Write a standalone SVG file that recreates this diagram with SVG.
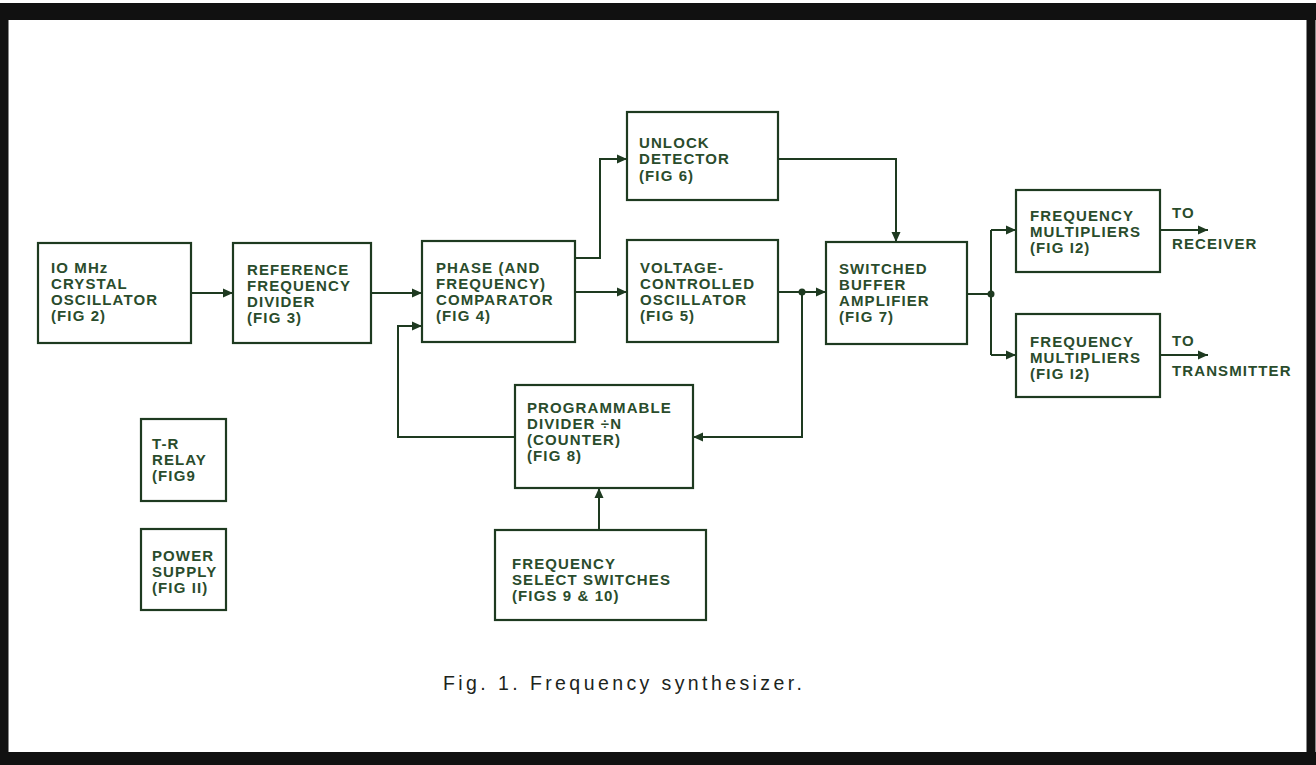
<svg xmlns="http://www.w3.org/2000/svg" width="1316" height="765" viewBox="0 0 1316 765">
<style>
.box{fill:#fff;stroke:#1e3a20;stroke-width:2.2}
.ln{fill:none;stroke:#1e3a20;stroke-width:2}
.t{font-family:"Liberation Sans",Arial,sans-serif;font-weight:bold;font-size:15px;letter-spacing:1.1px;fill:#2a4c2c}
.cap{font-family:"Liberation Sans",Arial,sans-serif;font-size:19.5px;fill:#1c241c}
.dot{fill:#1e3a20}
</style>
<defs>
<marker id="ar" viewBox="0 0 10 10" refX="10" refY="5" markerWidth="10" markerHeight="10" markerUnits="userSpaceOnUse" orient="auto">
<path d="M0,0.5 L10,5 L0,9.5 Z" fill="#1e3a20"/>
</marker>
</defs>
<rect x="0" y="0" width="1316" height="765" fill="#fff"/>
<g id="frame">
<path d="M4,20 V758 M1311,8 V758" stroke="#111" stroke-width="9" fill="none"/>
<rect x="0" y="3" width="1316" height="17" fill="#111"/>
<rect x="0" y="752" width="1316" height="13" fill="#111"/>
</g>
<g id="connectors">
<path class="ln" d="M191,293 H233" marker-end="url(#ar)"/>
<path class="ln" d="M371,293 H422" marker-end="url(#ar)"/>
<path class="ln" d="M515,437 H398 V326 H422" marker-end="url(#ar)"/>
<path class="ln" d="M575,292 H627" marker-end="url(#ar)"/>
<path class="ln" d="M575,258 H600 V159 H627" marker-end="url(#ar)"/>
<path class="ln" d="M778,159 H896 V242" marker-end="url(#ar)"/>
<path class="ln" d="M778,292 H826" marker-end="url(#ar)"/>
<path class="ln" d="M802,292 V437 H693" marker-end="url(#ar)"/>
<path class="ln" d="M599,530 V488" marker-end="url(#ar)"/>
<path class="ln" d="M967,294 H991"/>
<path class="ln" d="M991,230 V355"/>
<path class="ln" d="M991,230 H1016" marker-end="url(#ar)"/>
<path class="ln" d="M991,355 H1016" marker-end="url(#ar)"/>
<path class="ln" d="M1160,230 H1208" marker-end="url(#ar)"/>
<path class="ln" d="M1160,355 H1208" marker-end="url(#ar)"/>
<circle class="dot" cx="802" cy="292" r="3.5"/>
<circle class="dot" cx="991" cy="294" r="3.5"/>
</g>
<g id="crystal">
<rect class="box" x="38" y="243" width="153" height="100"/>
<text class="t" x="51" y="273">IO MHz</text>
<text class="t" x="51" y="289">CRYSTAL</text>
<text class="t" x="51" y="305">OSCILLATOR</text>
<text class="t" x="51" y="321">(FIG 2)</text>
</g>
<g id="refdiv">
<rect class="box" x="233" y="243" width="138" height="100"/>
<text class="t" x="247" y="275">REFERENCE</text>
<text class="t" x="247" y="291">FREQUENCY</text>
<text class="t" x="247" y="307">DIVIDER</text>
<text class="t" x="247" y="323">(FIG 3)</text>
</g>
<g id="comparator">
<rect class="box" x="422" y="241" width="153" height="101"/>
<text class="t" x="436" y="273">PHASE (AND</text>
<text class="t" x="436" y="289">FREQUENCY)</text>
<text class="t" x="436" y="305">COMPARATOR</text>
<text class="t" x="436" y="321">(FIG 4)</text>
</g>
<g id="unlock">
<rect class="box" x="627" y="112" width="151" height="88"/>
<text class="t" x="639" y="148">UNLOCK</text>
<text class="t" x="639" y="164">DETECTOR</text>
<text class="t" x="639" y="181">(FIG 6)</text>
</g>
<g id="vco">
<rect class="box" x="627" y="240" width="151" height="102"/>
<text class="t" x="640" y="273">VOLTAGE-</text>
<text class="t" x="640" y="289">CONTROLLED</text>
<text class="t" x="640" y="305">OSCILLATOR</text>
<text class="t" x="640" y="321">(FIG 5)</text>
</g>
<g id="buffer">
<rect class="box" x="826" y="242" width="141" height="102"/>
<text class="t" x="839" y="274">SWITCHED</text>
<text class="t" x="839" y="290">BUFFER</text>
<text class="t" x="839" y="306">AMPLIFIER</text>
<text class="t" x="839" y="322">(FIG 7)</text>
</g>
<g id="mult1">
<rect class="box" x="1016" y="190" width="144" height="82"/>
<text class="t" x="1030" y="221">FREQUENCY</text>
<text class="t" x="1030" y="237">MULTIPLIERS</text>
<text class="t" x="1030" y="253">(FIG I2)</text>
</g>
<g id="mult2">
<rect class="box" x="1016" y="314" width="144" height="83"/>
<text class="t" x="1030" y="347">FREQUENCY</text>
<text class="t" x="1030" y="363">MULTIPLIERS</text>
<text class="t" x="1030" y="379">(FIG I2)</text>
</g>
<g id="out-rx">
<text class="t" x="1172" y="218">TO</text>
<text class="t" x="1172" y="249">RECEIVER</text>
</g>
<g id="out-tx">
<text class="t" x="1172" y="346">TO</text>
<text class="t" x="1172" y="376">TRANSMITTER</text>
</g>
<g id="progdiv">
<rect class="box" x="515" y="385" width="178" height="103"/>
<text class="t" x="527" y="413">PROGRAMMABLE</text>
<text class="t" x="527" y="429">DIVIDER ÷N</text>
<text class="t" x="527" y="445">(COUNTER)</text>
<text class="t" x="527" y="461">(FIG 8)</text>
</g>
<g id="freqsel">
<rect class="box" x="495" y="530" width="211" height="90"/>
<text class="t" x="512" y="569">FREQUENCY</text>
<text class="t" x="512" y="585">SELECT SWITCHES</text>
<text class="t" x="512" y="601">(FIGS 9 &amp; 10)</text>
</g>
<g id="trrelay">
<rect class="box" x="141" y="419" width="85" height="82"/>
<text class="t" x="152" y="449">T-R</text>
<text class="t" x="152" y="465">RELAY</text>
<text class="t" x="152" y="481">(FIG9</text>
</g>
<g id="power">
<rect class="box" x="141" y="529" width="85" height="81"/>
<text class="t" x="152" y="561">POWER</text>
<text class="t" x="152" y="577">SUPPLY</text>
<text class="t" x="152" y="593">(FIG II)</text>
</g>
<text class="cap" x="443" y="690" textLength="359" lengthAdjust="spacing">Fig. 1. Frequency synthesizer.</text>
</svg>
